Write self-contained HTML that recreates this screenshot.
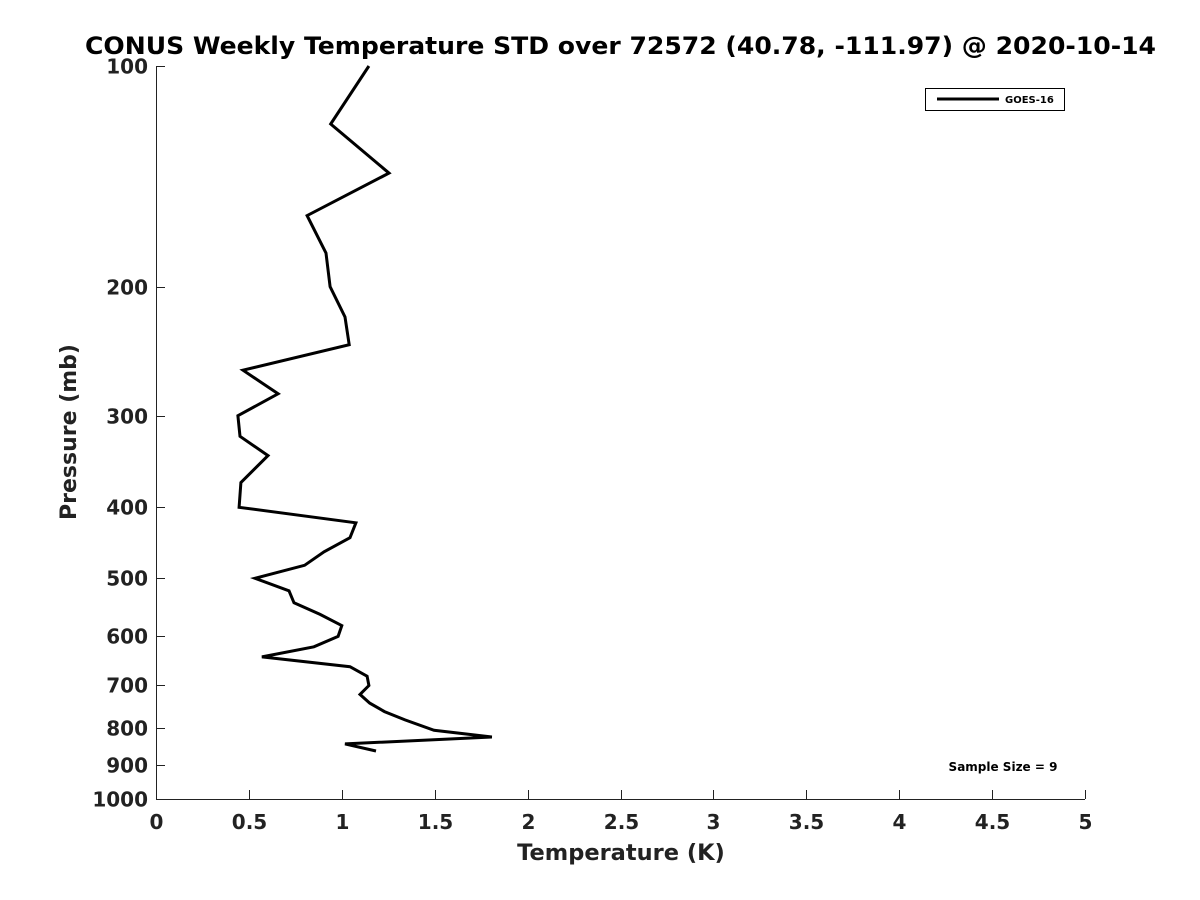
<!DOCTYPE html>
<html><head><meta charset="utf-8"><style>
html,body{margin:0;padding:0;background:#fff;}
svg{display:block;font-family:"DejaVu Sans","Liberation Sans",sans-serif;font-weight:bold;}
</style></head><body>
<svg id="chart" width="1200" height="900">
<text x="85" y="54" textLength="1071" lengthAdjust="spacingAndGlyphs" font-size="24" fill="#000">CONUS Weekly Temperature STD over 72572 (40.78, -111.97) @ 2020-10-14</text>
<g id="axes"></g>
<path id="line" fill="none" stroke="#000" stroke-width="3" stroke-linejoin="miter"></path>
<g>
<rect x="925.5" y="88.5" width="139" height="22" fill="#fff" stroke="#000" stroke-width="1"/>
<line x1="937" y1="99" x2="999" y2="99" stroke="#000" stroke-width="3"/>
<text x="1005" y="103" font-size="10">GOES-16</text>
</g>
<text x="1003" y="771" text-anchor="middle" font-size="12">Sample Size = 9</text>
<text x="621" y="860" text-anchor="middle" font-size="22.5" fill="#222">Temperature (K)</text>
<text transform="translate(76,432) rotate(-90)" text-anchor="middle" font-size="22" fill="#222">Pressure (mb)</text>
</svg>
<script>
const temps=[1.146,0.94,1.254,0.813,0.915,0.937,1.017,1.04,0.468,0.657,0.441,0.452,0.603,0.457,0.447,1.076,1.044,0.905,0.80,0.533,0.716,0.743,0.883,1.0,0.98,0.85,0.57,1.044,1.136,1.146,1.098,1.15,1.23,1.34,1.496,1.808,1.017,1.184];
const pressures=[100,120,140,160,180,200,220,240,260,280,300,320,340,370,400,420,440,460,480,500,520,540,560,580,600,620,640,660,680,700,720,740,760,780,806,823,841,860];
const xTicks=[0,0.5,1,1.5,2,2.5,3,3.5,4,4.5,5];
const xTickLabels=["0","0.5","1","1.5","2","2.5","3","3.5","4","4.5","5"];
const yTicks=[100,200,300,400,500,600,700,800,900,1000];
const yTickLabels=["100","200","300","400","500","600","700","800","900","1000"];
const X0=156,X1=1085,Y0=66,Y1=799;
const xs=v=>X0+(v-0)/5*(X1-X0);
const ys=p=>Y0+Math.log10(p/100)*(Y1-Y0);
const NS="http://www.w3.org/2000/svg";
const ax=document.getElementById('axes');
function mk(t,a){const e=document.createElementNS(NS,t);for(const k in a)e.setAttribute(k,a[k]);return e;}
let l=mk('line',{x1:X0,y1:Y1+0.5,x2:X1,y2:Y1+0.5,stroke:'#222','stroke-width':1});


ax.appendChild(l);
l=mk('line',{x1:X0+0.5,y1:Y0,x2:X0+0.5,y2:Y1,stroke:'#222','stroke-width':1});


ax.appendChild(l);
xTicks.forEach((v,i)=>{
 const x=Math.round(xs(v))+0.5;
 const t=mk('line',{x1:x,y1:Y1,x2:x,y2:Y1-9,stroke:'#222'});
 
 
 ax.appendChild(t);
 const tx=mk('text',{x:x,y:Y1+30,'text-anchor':'middle','font-size':20,fill:'#222'});
 tx.textContent=xTickLabels[i];
 
 
 ax.appendChild(tx);
});
yTicks.forEach((p,i)=>{
 const y=Math.round(ys(p))+0.5;
 const t=mk('line',{x1:X0,y1:y,x2:X0+9,y2:y,stroke:'#222'});
 
 
 ax.appendChild(t);
 const tx=mk('text',{x:X0-8,y:y+7,'text-anchor':'end','font-size':20,fill:'#222'});
 tx.textContent=yTickLabels[i];
 
 
 ax.appendChild(tx);
});
document.getElementById('line').setAttribute('d',temps.map((t,i)=>(i?'L':'M')+xs(t).toFixed(1)+','+ys(pressures[i]).toFixed(1)).join(' '));
</script>
</body></html>
